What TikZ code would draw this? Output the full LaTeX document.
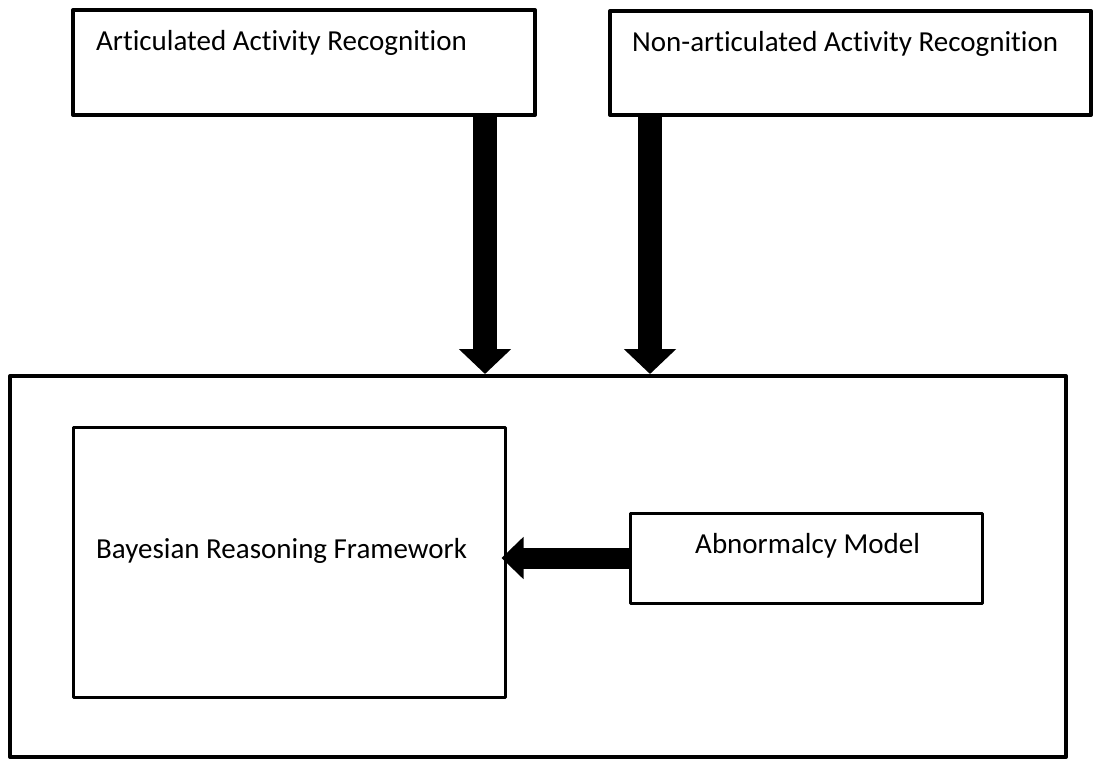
\documentclass[tikz,border=0pt]{standalone}
\usepackage{fontspec}
\setmainfont[Ligatures=NoCommon]{Carlito}
\usetikzlibrary{arrows.meta,calc}
\begin{document}
\begin{tikzpicture}[x=1pt,y=-1pt,
  box/.style={draw=black,line width=4pt,line join=round,inner sep=0pt,fill=none},
  innerbox/.style={draw=black,line width=3pt,line join=round,inner sep=0pt},
  lbl/.style={anchor=base west,inner sep=0pt,font=\fontsize{29}{33}\selectfont},
  downarrow/.style={line width=24pt,-{Triangle[width=51pt,length=25pt]}},
  leftarrow/.style={line width=21pt,-{Triangle[width=41pt,length=22pt]}}]
\useasboundingbox (0,0) rectangle (1094,759);
% input boxes
\node[box,minimum width=462pt,minimum height=105pt] (artic) at (304,62.5) {};
\node[box,minimum width=481pt,minimum height=104pt] (nonartic) at (850.5,63) {};
\node[lbl] (articT) at (96,51) {Articulated Activity Recognition};
\node[lbl] (nonarticT) at (632,52) {Non-articulated Activity Recognition};
% reasoning container
\node[box,minimum width=1056pt,minimum height=381pt] (outer) at (538,566.5) {};
\node[innerbox,minimum width=432pt,minimum height=270pt] (bayes) at (289,562) {};
\node[innerbox,minimum width=352pt,minimum height=90pt] (abn) at (806,558) {};
\node[lbl] (bayesT) at (96,558) {Bayesian Reasoning Framework};
\node[lbl] (abnT) at (695,553) {Abnormalcy Model};
% connectors
\coordinate (xa) at (485,0);
\coordinate (xb) at (650,0);
\draw[downarrow] (artic.south -| xa) -- (outer.north -| xa);
\draw[downarrow] (nonartic.south -| xb) -- (outer.north -| xb);
\draw[leftarrow,shorten >=-5pt] (abn.west) -- (bayes.east |- abn.west);
\end{tikzpicture}
\end{document}
